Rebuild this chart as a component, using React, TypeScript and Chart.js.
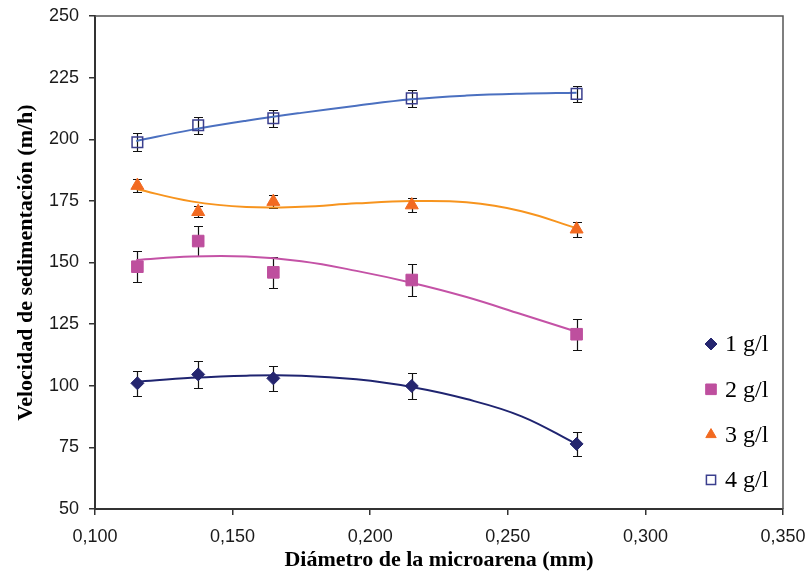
import React, { useEffect, useRef } from 'react';
import { Chart, registerables } from 'chart.js';

Chart.register(...registerables);

// Data
const diameters = [0.1154, 0.1375, 0.1648, 0.2151, 0.275];
const seriesLabels = ['1 g/l', '2 g/l', '3 g/l', '4 g/l'];
const vel1 = [101.0, 104.6, 103.0, 99.9, 76.4];
const vel2 = [148.3, 158.7, 146.0, 142.9, 120.9];
const vel3 = [181.2, 170.6, 174.7, 173.3, 163.5];
const vel4 = [198.8, 205.7, 208.5, 216.6, 218.4];
const err1 = [5.1, 5.4, 5.0, 5.1, 4.8];
const err2 = [6.3, 6.0, 6.2, 6.4, 6.3];
const err3 = [2.6, 2.3, 2.7, 2.9, 3.0];
const err4 = [3.7, 3.4, 3.4, 3.4, 3.4];
// Trend curves
const fitX = [0.115, 0.135, 0.155, 0.175, 0.195, 0.215, 0.235, 0.255, 0.275];
const fit1 = [101.6, 103.2, 104.1, 104.1, 102.6, 99.5, 94.6, 87.6, 76.3];
const fit2 = [151.0, 152.4, 152.4, 150.5, 146.6, 141.8, 136.0, 129.0, 121.9];
const fit3 = [179.8, 174.8, 172.5, 172.6, 174.0, 174.9, 174.4, 170.8, 163.9];
const fit4 = [199.3, 203.8, 207.5, 210.7, 213.6, 216.2, 217.7, 218.5, 218.9];
const xTicks = [0.1, 0.15, 0.2, 0.25, 0.3, 0.35];
const yTicks = [50, 75, 100, 125, 150, 175, 200, 225, 250];

const values = [vel1, vel2, vel3, vel4];
const errors = [err1, err2, err3, err4];
const fits = [fit1, fit2, fit3, fit4];

const markerStyles = [
  { pointStyle: 'rectRot', radius: 6.5, bg: '#25266F', border: '#25266F', bw: 1 },
  { pointStyle: 'rect', radius: 8.2, bg: '#BE4F9E', border: '#BE4F9E', bw: 1 },
  { pointStyle: 'triangle', radius: 7.5, bg: '#F26A21', border: '#F26A21', bw: 1 },
  { pointStyle: 'rect', radius: 7.5, bg: 'rgba(0,0,0,0)', border: '#3B3F8E', bw: 1.5 },
];
const lineColors = ['#1F2470', '#C452A6', '#F7941E', '#4B70C0'];

const errorBarPlugin = {
  id: 'errorBars',
  beforeDatasetsDraw(chart: any) {
    const { ctx } = chart;
    const x = chart.scales.x;
    const y = chart.scales.y;
    ctx.save();
    ctx.strokeStyle = '#111';
    ctx.lineWidth = 1.2;
    values.forEach((vals, s) => {
      vals.forEach((v, i) => {
        const px = Math.round(x.getPixelForValue(diameters[i])) + 0.5;
        const top = Math.round(y.getPixelForValue(v + errors[s][i])) + 0.5;
        const bot = Math.round(y.getPixelForValue(v - errors[s][i])) + 0.5;
        ctx.beginPath();
        ctx.moveTo(px, top);
        ctx.lineTo(px, bot);
        ctx.moveTo(px - 4.5, top);
        ctx.lineTo(px + 4.5, top);
        ctx.moveTo(px - 4.5, bot);
        ctx.lineTo(px + 4.5, bot);
        ctx.stroke();
      });
    });
    ctx.restore();
  },
};

function drawMarker(ctx: CanvasRenderingContext2D, style: string, x: number, y: number, r: number) {
  ctx.beginPath();
  if (style === 'rectRot') {
    ctx.moveTo(x, y - r);
    ctx.lineTo(x + r, y);
    ctx.lineTo(x, y + r);
    ctx.lineTo(x - r, y);
    ctx.closePath();
  } else if (style === 'rect') {
    const h = r * Math.SQRT1_2;
    ctx.rect(x - h, y - h, 2 * h, 2 * h);
  } else {
    ctx.moveTo(x, y - r);
    ctx.lineTo(x + r * Math.cos(Math.PI / 6), y + r / 2);
    ctx.lineTo(x - r * Math.cos(Math.PI / 6), y + r / 2);
    ctx.closePath();
  }
}

const framePlugin = {
  id: 'frameAndLegend',
  afterDraw(chart: any) {
    const { ctx, chartArea } = chart;
    ctx.save();
    ctx.strokeStyle = '#555';
    ctx.lineWidth = 1.5;
    ctx.beginPath();
    ctx.moveTo(chartArea.left, chartArea.top);
    ctx.lineTo(chartArea.right, chartArea.top);
    ctx.lineTo(chartArea.right, chartArea.bottom);
    ctx.stroke();

    // legend inside the plot area
    const mx = chartArea.right - 72;
    const y0 = chartArea.bottom - 165;
    const step = 45.3;
    ctx.font = '24px "Liberation Serif", "Times New Roman", serif';
    ctx.textBaseline = 'middle';
    ctx.textAlign = 'left';
    seriesLabels.forEach((label, i) => {
      const yy = y0 + i * step;
      const m = markerStyles[i];
      const r = i === 3 ? 6.5 : i === 1 ? 7.5 : 6;
      drawMarker(ctx, m.pointStyle, mx, yy, r);
      ctx.fillStyle = m.bg;
      ctx.fill();
      ctx.strokeStyle = m.border;
      ctx.lineWidth = m.bw;
      ctx.stroke();
      ctx.fillStyle = '#000';
      ctx.fillText(label, mx + 14, yy + 1);
    });
    ctx.restore();
  },
};

export default function App() {
  const canvasRef = useRef<HTMLCanvasElement | null>(null);

  useEffect(() => {
    document.body.style.margin = '0';
    const canvas = canvasRef.current;
    if (!canvas) return;

    const markerSets = values.map((vals, s) => ({
      type: 'scatter' as const,
      label: seriesLabels[s],
      data: vals.map((v, i) => ({ x: diameters[i], y: v })),
      showLine: false,
      pointStyle: markerStyles[s].pointStyle,
      pointRadius: markerStyles[s].radius,
      pointBackgroundColor: markerStyles[s].bg,
      pointBorderColor: markerStyles[s].border,
      pointBorderWidth: markerStyles[s].bw,
      order: 0,
    }));
    const fitSets = fits.map((f, s) => ({
      type: 'line' as const,
      label: 'fit ' + seriesLabels[s],
      data: f.map((v, i) => ({ x: fitX[i], y: v })),
      borderColor: lineColors[s],
      borderWidth: 2,
      pointRadius: 0,
      fill: false,
      tension: 0.4,
      order: 1,
    }));

    const chart = new Chart(canvas, {
      type: 'scatter',
      data: { datasets: [...markerSets, ...fitSets] as any },
      options: {
        animation: false,
        responsive: false,
        layout: { padding: { top: 16, right: 25, left: 0, bottom: 0 } },
        plugins: {
          legend: { display: false },
          tooltip: { enabled: false },
        },
        scales: {
          x: {
            type: 'linear',
            min: 0.1,
            max: 0.35,
            afterFit: (scale: any) => {
              scale.height = 66;
              scale.paddingLeft = 0;
              scale.paddingRight = 0;
            },
            afterBuildTicks: (scale: any) => {
              scale.ticks = xTicks.map((v) => ({ value: v }));
            },
            ticks: {
              color: '#1a1a1a',
              padding: 11,
              font: { family: '"Liberation Sans", Arial, sans-serif', size: 18 },
              callback: (v: any) => Number(v).toFixed(3).replace('.', ','),
            },
            grid: { display: true, drawOnChartArea: false, tickLength: 6, color: '#333', lineWidth: 1.5 },
            border: { display: true, color: '#333', width: 2 },
            title: {
              display: true,
              text: 'Diámetro de la microarena (mm)',
              color: '#000',
              padding: { top: 0, bottom: 1 },
              font: { family: '"Liberation Serif", "Times New Roman", serif', size: 22, weight: 'bold' },
            },
          },
          y: {
            type: 'linear',
            min: 50,
            max: 250,
            afterFit: (scale: any) => {
              scale.width = 95;
              scale.paddingTop = 0;
              scale.paddingBottom = 0;
            },
            afterBuildTicks: (scale: any) => {
              scale.ticks = yTicks.map((v) => ({ value: v }));
            },
            ticks: {
              color: '#1a1a1a',
              padding: 10,
              font: { family: '"Liberation Sans", Arial, sans-serif', size: 18 },
            },
            grid: { display: true, drawOnChartArea: false, tickLength: 6, color: '#333', lineWidth: 1.5 },
            border: { display: true, color: '#333', width: 2 },
            title: {
              display: true,
              text: 'Velocidad de sedimentación (m/h)',
              color: '#000',
              padding: { top: 13, bottom: 0 },
              font: { family: '"Liberation Serif", "Times New Roman", serif', size: 22, weight: 'bold' },
            },
          },
        },
      },
      plugins: [errorBarPlugin, framePlugin],
    });

    return () => chart.destroy();
  }, []);

  return (
    <div style={{ width: 808, height: 575 }}>
      <canvas ref={canvasRef} width={808} height={575} style={{ display: 'block' }} />
    </div>
  );
}
